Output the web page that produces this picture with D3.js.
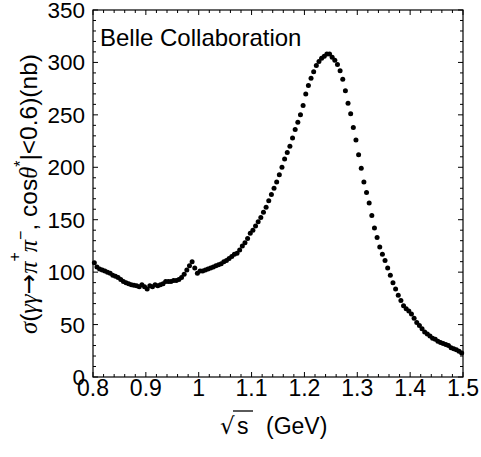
<!DOCTYPE html>
<html><head><meta charset="utf-8">
<script src="https://cdn.jsdelivr.net/npm/d3@7"></script>
<style>
body{margin:0;background:#fff;}
svg{display:block;}
text{font-family:"Liberation Sans",Arial,sans-serif;fill:#000;}
</style></head>
<body>
<svg id="chart" width="481" height="457"></svg>
<script>
// sqrt(s) bin centres (GeV): 0.8025 .. 1.4975 step 0.005
const energies = d3.range(140).map(i => +(0.8025 + 0.005 * i).toFixed(4));
// cross sections (nb)
const sigma = [
 109,105,103,102,101,100,99,97,96,95,
 93,91,90,89,88,87.5,87,86,88,86,
 84,87,86,88,87,88,89,91,91,91,
 92,92,93,95,98,102,106,110,104,99,
 101,101,102,103,104,105,106,107,108,110,
 111,113,115,117,118,121,125,128,132,137,
 140,144,148,152,157,162,168,174,180,186,
 193,200,208,214,220,228,236,243,250,259,
 270,278,285,291,297,301,304,306,308,308,
 305,302,298,292,284,273,261,251,238,226,
 212,199,186,176,166,154,142,133,124,117,
 111,104,97,90,84,78,73,68,65,63,
 60,56,52,49,46,43,41,39,37,36,
 34,33,32,31,30,28,27,26,24.5,23
];
const xTicks = [0.8,0.9,1.0,1.1,1.2,1.3,1.4,1.5];
const xTickLabels = ["0.8","0.9","1","1.1","1.2","1.3","1.4","1.5"];
const yTicks = [0,50,100,150,200,250,300,350];
const xMinor = d3.range(0.8, 1.5001, 0.02);
const yMinor = d3.range(0, 350.01, 10);

const svg = d3.select("#chart");
const L = 93, R = 463, T = 10, B = 377;
const x = d3.scaleLinear().domain([0.8, 1.5]).range([L, R]);
const y = d3.scaleLinear().domain([0, 350]).range([B, T]);

// frame
svg.append("rect").attr("x", L).attr("y", T).attr("width", R - L).attr("height", B - T)
  .attr("fill", "none").attr("stroke", "#000").attr("stroke-width", 1.2);

const g = svg.append("g").attr("stroke", "#000").attr("stroke-width", 1);
const isMajorX = v => xTicks.some(t => Math.abs(t - v) < 1e-6);
const isMajorY = v => yTicks.some(t => Math.abs(t - v) < 1e-6);
xMinor.forEach(v => {
  const len = isMajorX(v) ? 5 : 3;
  g.append("line").attr("x1", x(v)).attr("x2", x(v)).attr("y1", B).attr("y2", B - len);
  g.append("line").attr("x1", x(v)).attr("x2", x(v)).attr("y1", T).attr("y2", T + len);
});
yMinor.forEach(v => {
  const len = isMajorY(v) ? 5 : 3;
  g.append("line").attr("y1", y(v)).attr("y2", y(v)).attr("x1", L).attr("x2", L + len);
  g.append("line").attr("y1", y(v)).attr("y2", y(v)).attr("x1", R).attr("x2", R - len);
});

// tick labels
svg.append("g").selectAll("text").data(xTicks).join("text")
  .attr("x", d => x(d)).attr("y", B + 19).attr("text-anchor", "middle")
  .style("font-size", "23px").text((d, i) => xTickLabels[i]);
svg.append("g").selectAll("text").data(yTicks).join("text")
  .attr("x", L - 8).attr("y", d => y(d) + 8).attr("text-anchor", "end")
  .style("font-size", "22.5px").text(d => d);

// data points
svg.append("g").selectAll("circle").data(energies).join("circle")
  .attr("cx", d => x(d)).attr("cy", (d, i) => y(sigma[i])).attr("r", 2.5).attr("fill", "#000");

// label
svg.append("text").attr("x", 100).attr("y", 46).style("font-size", "24px").text("Belle Collaboration");

// x title
const xt = svg.append("g");
xt.append("text").attr("x", 220).attr("y", 434).style("font-size", "23px")
  .style("font-family", "DejaVu Sans").text("\u221A");
xt.append("line").attr("x1", 233).attr("x2", 253).attr("y1", 411).attr("y2", 411)
  .attr("stroke", "#000").attr("stroke-width", 1.3);
xt.append("text").attr("x", 237).attr("y", 434).style("font-size", "23px").text("s");
xt.append("text").attr("x", 266).attr("y", 434).style("font-size", "23px").text("(GeV)");

// y title
const yt = svg.append("text").attr("transform", "translate(37,194) rotate(-90)")
  .attr("text-anchor", "middle").style("font-size", "24.5px");
const parts = [
  {t: "\u03C3", f: "Liberation Serif", st: "italic"},
  {t: "(", f: "Liberation Sans"},
  {t: "\u03B3\u03B3", f: "Liberation Serif", st: "italic"},
  {t: "\u2192", f: "DejaVu Sans"},
  {t: "\u03C0", f: "Liberation Serif", st: "italic"},
  {t: "+", f: "Liberation Sans", dy: -17, size: 16},
  {t: "\u03C0", f: "Liberation Serif", st: "italic", dy: 17},
  {t: "\u2212", f: "Liberation Sans", dy: -11, size: 16},
  {t: ", cos", f: "Liberation Sans", dy: 11},
  {t: "\u03B8", f: "Liberation Serif", st: "italic"},
  {t: "*", f: "Liberation Sans", dy: -11, size: 16},
  {t: "|<0.6)(nb)", f: "Liberation Sans", dy: 11}
];
parts.forEach(p => {
  const ts = yt.append("tspan").text(p.t).style("font-family", p.f);
  if (p.st) ts.style("font-style", p.st);
  if (p.size) ts.style("font-size", p.size + "px");
  if (p.dy) ts.attr("dy", p.dy);
});
</script>
</body></html>
